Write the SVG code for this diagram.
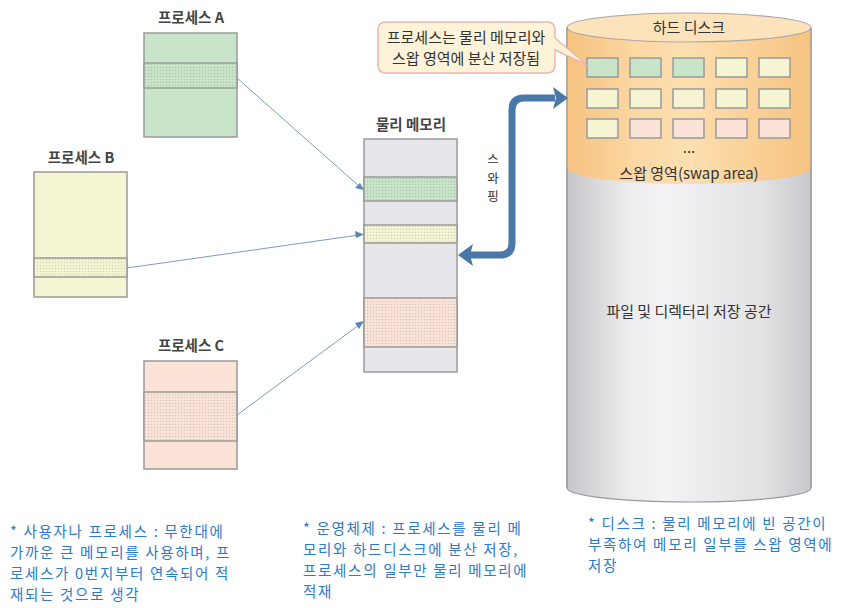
<svg xmlns="http://www.w3.org/2000/svg" width="843" height="608" viewBox="0 0 843 608">
<style>
.lbl{font-family:"Noto Sans CJK KR","Liberation Sans",sans-serif;font-size:15px;fill:#333;text-anchor:middle}
.lblb{font-family:"Noto Sans CJK KR","Liberation Sans",sans-serif;font-size:14.5px;font-weight:bold;fill:#444;text-anchor:middle}
.sw{font-family:"Noto Sans CJK KR","Liberation Sans",sans-serif;font-size:12.5px;fill:#333;text-anchor:middle}
.note{font-family:"Noto Sans CJK KR","Liberation Sans",sans-serif;font-size:14.5px;letter-spacing:1.7px;fill:#2a7bc8}
.box{stroke:#9a9a9a;stroke-width:1.5}
.cell{stroke:#9a9a9a;stroke-width:1.5}
.conn{stroke:#7a9cc0;stroke-width:1;fill:none}
.g{fill:#c9e5c9}.y{fill:#f5f5d3}.p{fill:#fbe3d8}.m{fill:#e6e6ec}
</style>
<defs>
<pattern id="dots" width="3" height="3" patternUnits="userSpaceOnUse">
<circle cx="1.5" cy="1.5" r="0.75" fill="#000000" fill-opacity="0.13"/>
</pattern>
<linearGradient id="gray" x1="0" y1="0" x2="1" y2="0">
<stop offset="0" stop-color="#c6c6ca"/>
<stop offset="0.25" stop-color="#ececee"/>
<stop offset="0.4" stop-color="#f3f3f5"/>
<stop offset="0.8" stop-color="#e2e2e5"/>
<stop offset="1" stop-color="#c8c8cc"/>
</linearGradient>
<linearGradient id="orange" x1="0" y1="0" x2="1" y2="0">
<stop offset="0" stop-color="#f6c27f"/>
<stop offset="0.3" stop-color="#fcd9a5"/>
<stop offset="0.5" stop-color="#fddfb0"/>
<stop offset="1" stop-color="#f6c380"/>
</linearGradient>
</defs>

<g id="processA">
<text class="lblb" x="191" y="23">프로세스 A</text>
<rect class="box g" x="144" y="33" width="93" height="104"/>
<rect class="box g" x="144" y="63" width="93" height="25"/>
<rect x="144.8" y="63.8" width="91.4" height="23.4" fill="url(#dots)"/>
</g>

<g id="processB">
<text class="lblb" x="81" y="163">프로세스 B</text>
<rect class="box y" x="34" y="172" width="93" height="125"/>
<rect class="box y" x="34" y="258" width="93" height="19"/>
<rect x="34.8" y="258.8" width="91.4" height="17.4" fill="url(#dots)"/>
</g>

<g id="processC">
<text class="lblb" x="191" y="351">프로세스 C</text>
<rect class="box p" x="144" y="361" width="93" height="108"/>
<rect class="box p" x="144" y="392" width="93" height="49"/>
<rect x="144.8" y="392.8" width="91.4" height="47.4" fill="url(#dots)"/>
</g>

<g id="memory">
<text class="lblb" x="411" y="130">물리 메모리</text>
<rect class="box m" x="364" y="139" width="93" height="233"/>
<rect class="box g" x="364" y="177" width="93" height="24"/>
<rect x="364.8" y="177.8" width="91.4" height="22.4" fill="url(#dots)"/>
<rect class="box y" x="364" y="225" width="93" height="18"/>
<rect x="364.8" y="225.8" width="91.4" height="16.4" fill="url(#dots)"/>
<rect class="box p" x="364" y="298" width="93" height="49"/>
<rect x="364.8" y="298.8" width="91.4" height="47.4" fill="url(#dots)"/>
</g>

<g id="disk">
<path d="M567,28 V488 A122,14 0 0 0 811,488 V28 Z" fill="url(#gray)" stroke="#9a9a9a" stroke-width="1.2"/>
<path d="M567,28 V168 A122,16 0 0 0 811,168 V28 Z" fill="url(#orange)"/>
<ellipse cx="689" cy="27.5" rx="122" ry="14.5" fill="#fde3bb" stroke="#a8a8a8" stroke-width="1.2"/>
<path d="M567,28 V488 M811,28 V488" stroke="#9a9a9a" stroke-width="1.2" fill="none"/>
<text class="lbl" x="689" y="33">하드 디스크</text>
<rect class="cell g" x="587" y="58" width="31" height="19"/>
<rect class="cell g" x="630" y="58" width="31" height="19"/>
<rect class="cell g" x="673" y="58" width="31" height="19"/>
<rect class="cell y" x="716" y="58" width="31" height="19"/>
<rect class="cell y" x="759" y="58" width="31" height="19"/>
<rect class="cell y" x="587" y="89" width="31" height="19"/>
<rect class="cell y" x="630" y="89" width="31" height="19"/>
<rect class="cell y" x="673" y="89" width="31" height="19"/>
<rect class="cell y" x="716" y="89" width="31" height="19"/>
<rect class="cell y" x="759" y="89" width="31" height="19"/>
<rect class="cell y" x="587" y="119" width="31" height="19"/>
<rect class="cell p" x="630" y="119" width="31" height="19"/>
<rect class="cell p" x="673" y="119" width="31" height="19"/>
<rect class="cell p" x="716" y="119" width="31" height="19"/>
<rect class="cell p" x="759" y="119" width="31" height="19"/>
<text class="lbl" x="689" y="153" font-size="11">...</text>
<text class="lbl" x="689" y="179" font-size="16">스왑 영역(swap area)</text>
<text class="lbl" x="689" y="317" font-size="16.5">파일 및 디렉터리 저장 공간</text>
</g>

<g id="callout">
<path d="M386,22 H547 Q555,22 555,30 V38 L587,65 L555,50 V65 Q555,73 547,73 H386 Q378,73 378,65 V30 Q378,22 386,22 Z" fill="#fdf3d8" stroke="#ecb7b0" stroke-width="1.5"/>
<text class="lbl" x="466" y="43" font-size="16">프로세스는 물리 메모리와</text>
<text class="lbl" x="466" y="64" font-size="16">스왑 영역에 분산 저장됨</text>
</g>

<g id="connectors">
<line class="conn" x1="237" y1="78" x2="360" y2="187"/>
<path d="M364,190 L355,188 L360,183 Z" fill="#5a86b8"/>
<line class="conn" x1="127" y1="268" x2="359" y2="235"/>
<path d="M364,234.5 L356,238 L355,231 Z" fill="#5a86b8"/>
<line class="conn" x1="237" y1="415" x2="359" y2="325"/>
<path d="M364,321 L359,329 L355,323 Z" fill="#5a86b8"/>
<path d="M470,255 H500 Q512,255 512,243 V110 Q512,98 524,98 H555" fill="none" stroke="#4a78a8" stroke-width="7"/>
<path d="M458,255 L473,244 L470,255 L473,266 Z" fill="#4a78a8"/>
<path d="M568,98 L553,87 L556,98 L553,109 Z" fill="#4a78a8"/>
<text class="sw" x="493" y="164">스</text>
<text class="sw" x="493" y="182.5">와</text>
<text class="sw" x="493" y="201">핑</text>
</g>

<g id="notes">
<text class="note" x="10" y="537">* 사용자나 프로세스 : 무한대에</text>
<text class="note" x="10" y="558">가까운 큰 메모리를 사용하며, 프</text>
<text class="note" x="10" y="579">로세스가 0번지부터 연속되어 적</text>
<text class="note" x="10" y="600">재되는 것으로 생각</text>
<text class="note" x="303" y="534">* 운영체제 : 프로세스를 물리 메</text>
<text class="note" x="303" y="555">모리와 하드디스크에 분산 저장,</text>
<text class="note" x="303" y="576">프로세스의 일부만 물리 메모리에</text>
<text class="note" x="303" y="597">적재</text>
<text class="note" x="588" y="529">* 디스크 : 물리 메모리에 빈 공간이</text>
<text class="note" x="588" y="550">부족하여 메모리 일부를 스왑 영역에</text>
<text class="note" x="588" y="571">저장</text>
</g>
</svg>
